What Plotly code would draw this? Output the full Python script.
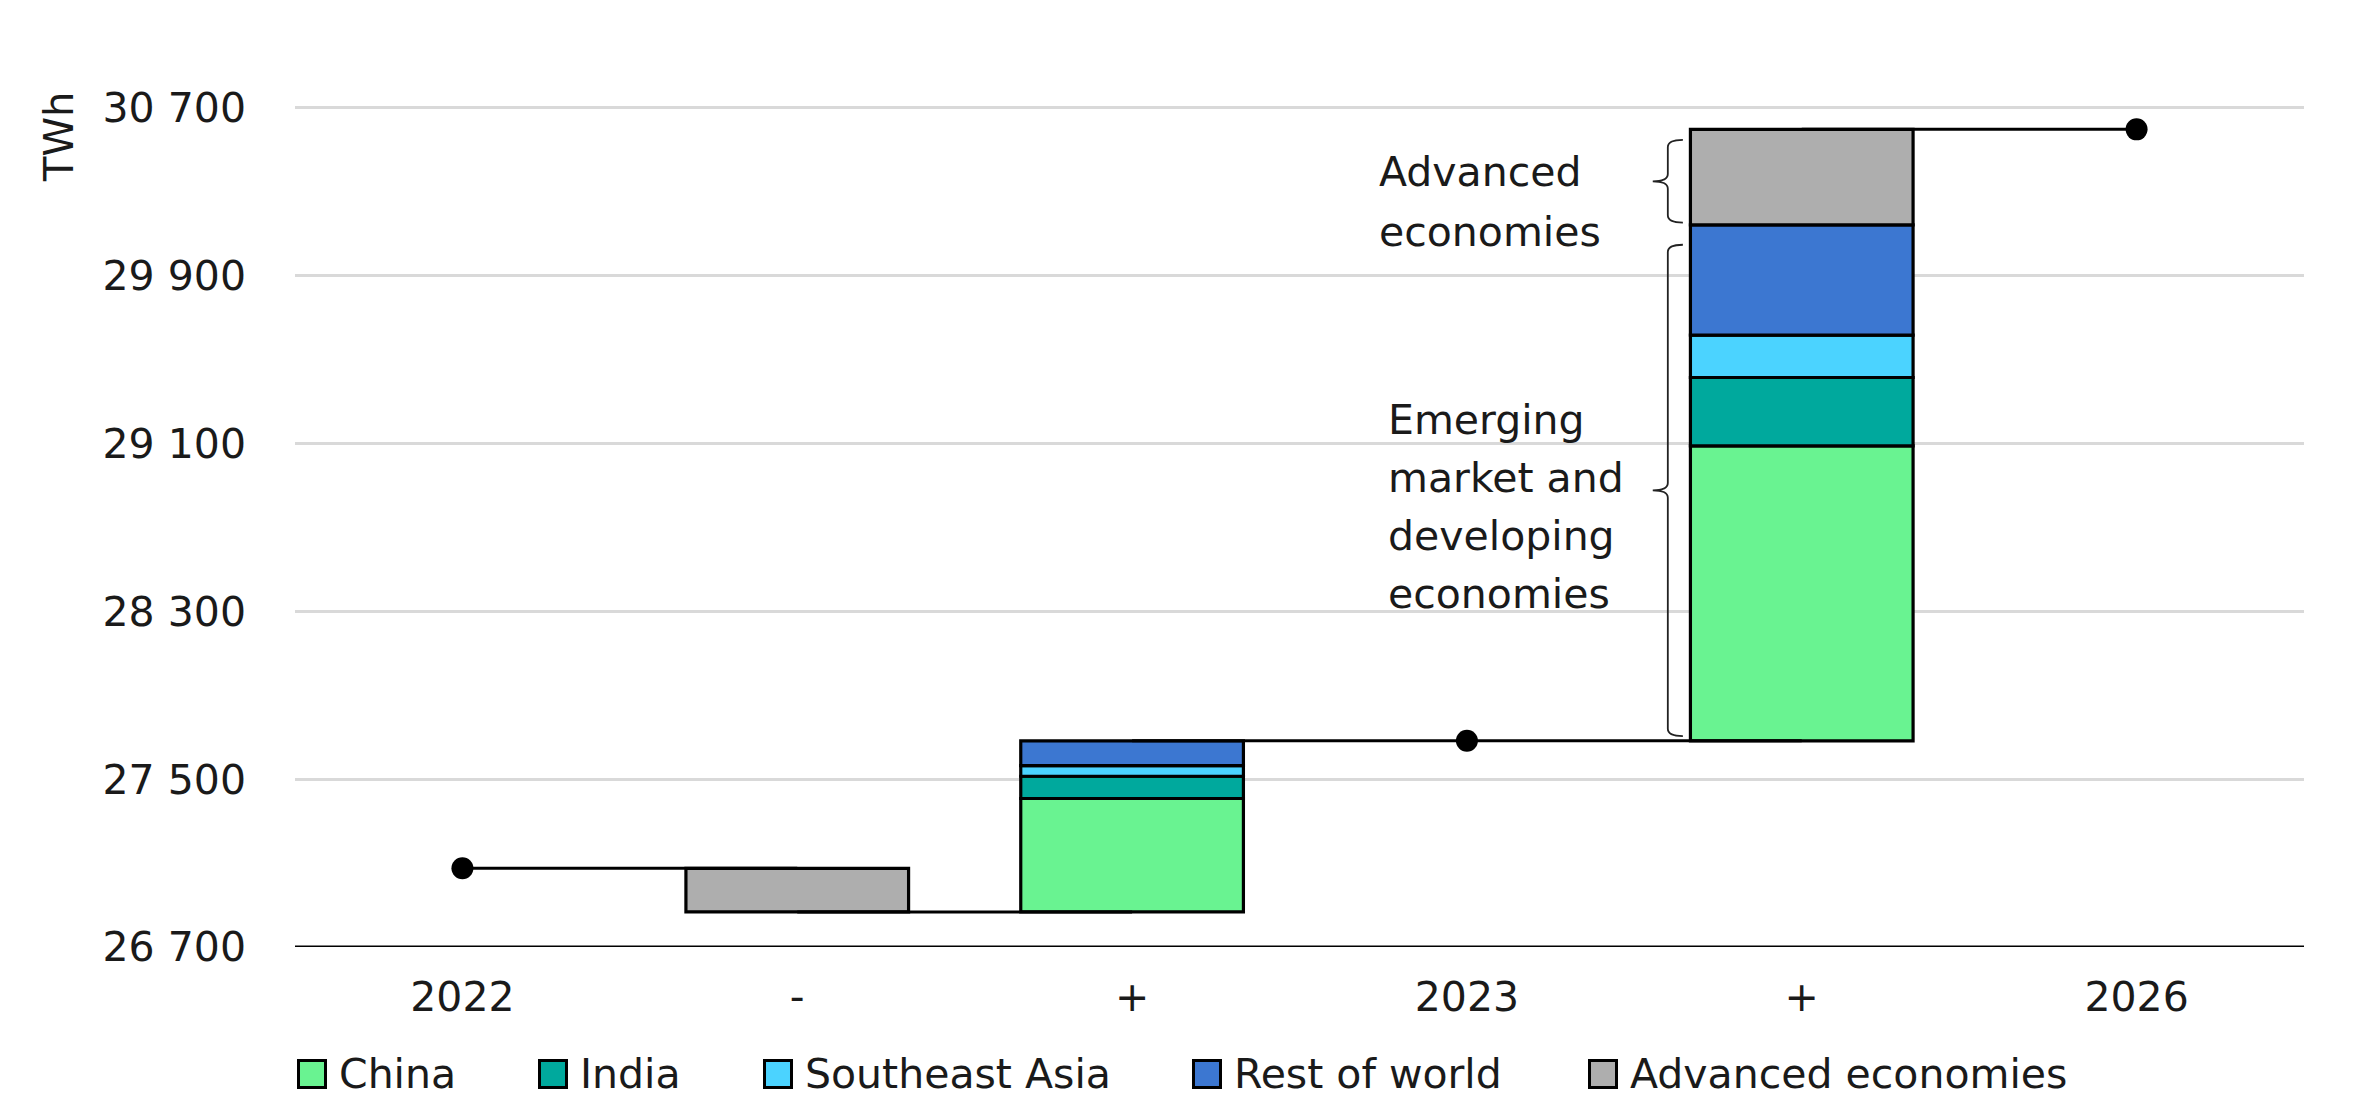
import plotly.graph_objects as go

# ---------------- data ----------------
categories = ["2022", "-", "+", "2023", "+", "2026"]
regions = ["China", "India", "Southeast Asia", "Rest of world", "Advanced economies"]
colors = ["#69F391", "#00A99D", "#4BD3FF", "#3C77D1", "#AEAEAE"]
demand_2022 = 27075
change_2022_2023 = [541, 106, 51, 118, -208]     # China, India, SEA, RoW, Advanced
change_2023_2026 = [1406, 326, 202, 526, 455]
y_ticks = [26700, 27500, 28300, 29100, 29900, 30700]

# ---------------- derived ----------------
adv_drop = -change_2022_2023[4]
low_2023 = demand_2022 - adv_drop
demand_2023 = low_2023 + sum(change_2022_2023[:4])
demand_2026 = demand_2023 + sum(change_2023_2026)

# ---------------- layout constants (screen pixels) ----------------
OFF = 8                      # default page body margin
W, H = 2357 - 2 * OFF, 1109 - 2 * OFF
PL, PR, PT, PB = 295, 2304, 87, 947          # plot area on screen
ML, MR, MT, MB = PL - OFF, W - (PR - OFF), PT - OFF, H - (PB - OFF)
PW, PH = PR - PL, PB - PT
BW = 0.665
FONT = "DejaVu Sans, Arial, sans-serif"
FS = 41
TXT = "#1a1a1a"

def px(sx):   # screen x -> paper x
    return (sx - PL) / PW

def py(sy):   # screen y -> paper y
    return (PB - sy) / PH

fig = go.Figure()

# connector line
fig.add_trace(go.Scatter(
    x=[0, 1, None, 1, 2, None, 2, 4, None, 4, 5],
    y=[demand_2022, demand_2022, None, low_2023, low_2023, None,
       demand_2023, demand_2023, None, demand_2026, demand_2026],
    mode="lines", line=dict(color="black", width=3),
    showlegend=False, hoverinfo="skip"))

# bars
for i, (name, col) in enumerate(zip(regions, colors)):
    xs, ys, bases = [], [], []
    if i < 4:
        xs.append(2)
        ys.append(change_2022_2023[i])
        bases.append(low_2023 + sum(change_2022_2023[:i]))
    else:
        xs.append(1)
        ys.append(adv_drop)
        bases.append(low_2023)
    xs.append(4)
    ys.append(change_2023_2026[i])
    bases.append(demand_2023 + sum(change_2023_2026[:i]))
    fig.add_trace(go.Bar(
        x=xs, y=ys, base=bases, width=BW, name=name,
        marker=dict(color=col, line=dict(color="black", width=3.2)),
        showlegend=False))

# total dots
fig.add_trace(go.Scatter(
    x=[0, 3, 5], y=[demand_2022, demand_2023, demand_2026],
    mode="markers", marker=dict(color="black", size=22),
    showlegend=False, hoverinfo="skip"))

# braces
def brace(y0, y1, xb=3.60, xt=3.555, xe=3.645, d=35):
    ym = (y0 + y1) / 2
    return (f"M {xe},{y1} Q {xb},{y1} {xb},{y1-d} L {xb},{ym+d} "
            f"Q {xb},{ym} {xt},{ym} Q {xb},{ym} {xb},{ym-d} "
            f"L {xb},{y0+d} Q {xb},{y0} {xe},{y0}")

adv_lo = demand_2026 - change_2023_2026[4]
fig.add_shape(type="path", xref="x", yref="y",
              path=brace(adv_lo + 10, demand_2026 - 50),
              line=dict(color="#222", width=1.8))
fig.add_shape(type="path", xref="x", yref="y",
              path=brace(demand_2023 + 22, adv_lo - 95),
              line=dict(color="#222", width=1.8))

# brace labels (one annotation per line for the original's line spacing)
adv_lines = [("Advanced", 187), ("economies", 247)]
emde_lines = [("Emerging", 435), ("market and", 493), ("developing", 551), ("economies", 609)]
for txt, base in adv_lines:
    fig.add_annotation(x=px(1377), y=py(base - 15), xref="paper", yref="paper",
                       text=txt, showarrow=False, xanchor="left", yanchor="middle",
                       font=dict(size=FS, color=TXT, family=FONT))
for txt, base in emde_lines:
    fig.add_annotation(x=px(1386), y=py(base - 15), xref="paper", yref="paper",
                       text=txt, showarrow=False, xanchor="left", yanchor="middle",
                       font=dict(size=FS, color=TXT, family=FONT))

# TWh label
fig.add_annotation(x=px(59), y=py(137), xref="paper", yref="paper",
                   text="TWh", textangle=-90, showarrow=False,
                   xanchor="center", yanchor="middle",
                   font=dict(size=40, color=TXT, family=FONT))

# legend (drawn manually to match swatch size and spacing)
legend_x = [297, 538, 763, 1192, 1588]
legend_yc = 1074
SW = 27
for name, col, lx in zip(regions, colors, legend_x):
    fig.add_shape(type="rect", xref="paper", yref="paper",
                  x0=px(lx + 1.5), x1=px(lx + 1.5 + SW),
                  y0=py(legend_yc + SW / 2), y1=py(legend_yc - SW / 2),
                  fillcolor=col, line=dict(color="black", width=3))
    fig.add_annotation(x=px(lx + 40), y=py(legend_yc), xref="paper", yref="paper",
                       text=name, showarrow=False, xanchor="left", yanchor="middle",
                       font=dict(size=FS, color=TXT, family=FONT))

fig.update_layout(
    width=W, height=H,
    margin=dict(l=ML, r=MR, t=MT, b=MB, autoexpand=False),
    plot_bgcolor="white", paper_bgcolor="white",
    barmode="overlay", separators=". ",
    font=dict(family=FONT, size=FS, color=TXT),
    showlegend=False,
    xaxis=dict(range=[-0.5, 5.5], tickvals=list(range(6)), ticktext=categories,
               showgrid=False, zeroline=False, showline=False, ticks="",
               ticklabelstandoff=22, tickfont=dict(size=FS, family=FONT, color=TXT)),
    yaxis=dict(range=[26700, 30800], tickvals=y_ticks, tickformat=",d",
               showgrid=True, gridcolor="#D9D9D9", gridwidth=2.5,
               zeroline=False, showline=False, ticks="",
               ticklabelstandoff=48, tickfont=dict(size=FS, family=FONT, color=TXT)),
)
# x axis baseline
fig.add_shape(type="line", xref="paper", yref="y", x0=0, x1=1, y0=26700, y1=26700,
              line=dict(color="black", width=3))

fig.write_html("out.html")
